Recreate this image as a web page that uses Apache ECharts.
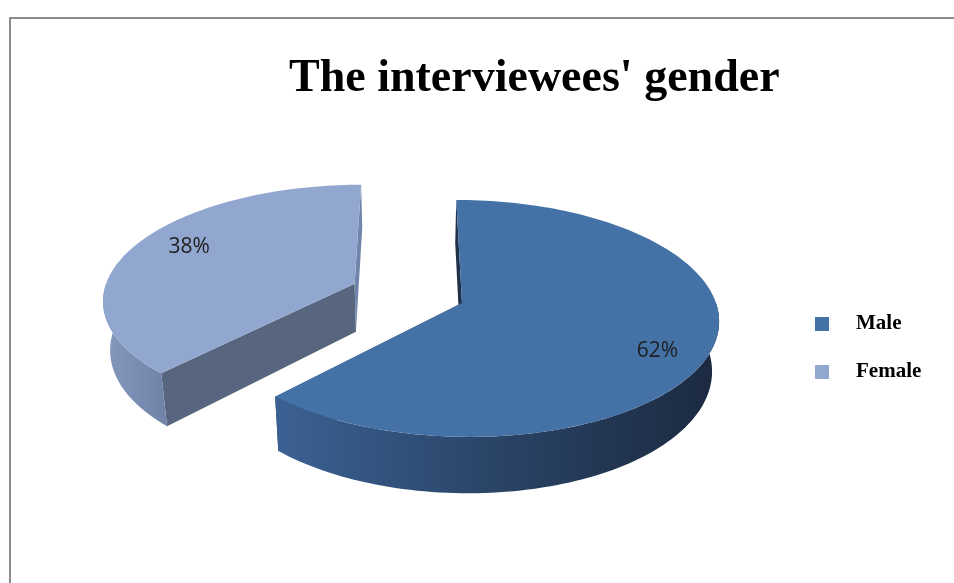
<!DOCTYPE html>
<html>
<head>
<meta charset="utf-8">
<script src="https://cdn.jsdelivr.net/npm/echarts@6/dist/echarts.min.js"></script>
<style>
  html, body { margin: 0; padding: 0; background: #fff; }
  #chart { width: 954px; height: 583px; }
</style>
</head>
<body>
<div id="chart"></div>
<script>
  // data
  const categories = ['Male', 'Female'];
  const shares = [62, 38];
  const shareLabels = ['62%', '38%'];

  // look
  const topColors = ['#4471A6', '#92A7CF'];
  const sideStops = [
    [[0, '#3B6193'], [0.5, '#2A4466'], [1, '#1B2940']],
    [[0, '#8599BF'], [1, '#6F82A8']]
  ];
  // [face on start edge, face on end edge]
  const cutColors = [['#1F3049', '#2B4466'], ['#57657F', '#7185AB']];
  const explode = [0, 0.46];

  // simple perspective view of the pie disc
  const view = { cx: 462, cy: 303, rx: 254, ry: 116.5, vx: 412, c: 0.13, q: 0.977, h: 49 };

  function project(X, Z, bottom) {
    const p = 1 / (1 - view.c * Z);
    const base = view.cx + view.rx * X;
    const k = bottom ? p * view.q : p;
    return [
      view.vx + (base - view.vx) * k,
      view.cy + view.ry * Z * p + (bottom ? view.h * p : 0)
    ];
  }

  function rim(ex, ez, a, bottom) {
    return project(ex + Math.sin(a), ez - Math.cos(a), bottom);
  }

  function arc(ex, ez, a0, a1, bottom) {
    const out = [];
    const steps = Math.max(2, Math.ceil(Math.abs(a1 - a0) / (Math.PI / 120)));
    for (let s = 0; s <= steps; s++) {
      out.push(rim(ex, ez, a0 + (a1 - a0) * s / steps, bottom));
    }
    return out;
  }

  function sliceRender(idx) {
    return function (params, api) {
      const total = shares.reduce(function (a, b) { return a + b; }, 0);
      let before = 0;
      for (let k = 0; k < idx; k++) before += shares[k];
      const a0 = before / total * Math.PI * 2;
      const a1 = (before + api.value(0)) / total * Math.PI * 2;
      const mid = (a0 + a1) / 2;

      const ex = explode[idx] * Math.sin(mid);
      const ez = -explode[idx] * Math.cos(mid);
      const apexTop = project(ex, ez, false);
      const apexBot = project(ex, ez, true);
      const children = [];

      // cut faces along both radius edges
      [a0, a1].forEach(function (a, j) {
        children.push({
          type: 'polygon',
          shape: { points: [apexTop, rim(ex, ez, a, false), rim(ex, ez, a, true), apexBot] },
          style: { fill: cutColors[idx][j] }
        });
      });

      // curved front wall (front half is PI/2 .. 3PI/2)
      const f0 = Math.max(a0, Math.PI / 2);
      const f1 = Math.min(a1, Math.PI * 1.5);
      if (f1 > f0) {
        const upper = arc(ex, ez, f0, f1, false);
        const lower = arc(ex, ez, f0, f1, true).reverse();
        children.push({
          type: 'polygon',
          shape: { points: upper.concat(lower) },
          style: {
            fill: {
              type: 'linear', x: 0, y: 0, x2: 1, y2: 0,
              colorStops: sideStops[idx].map(function (s) { return { offset: s[0], color: s[1] }; })
            }
          }
        });
      }

      // top face
      children.push({
        type: 'polygon',
        shape: { points: [apexTop].concat(arc(ex, ez, a0, a1, false)) },
        style: { fill: topColors[idx] }
      });

      // value label
      const lp = project(ex + 0.77 * Math.sin(mid), ez - Math.cos(mid), false);
      children.push({
        type: 'text',
        style: {
          text: shareLabels[idx],
          x: lp[0] + 2,
          y: lp[1] + 3,
          align: 'center',
          verticalAlign: 'middle',
          fill: '#1e1e1e',
          fontSize: 21,
          fontFamily: 'Open Sans, Liberation Sans, sans-serif'
        }
      });

      return { type: 'group', children: children };
    };
  }

  // draw back slice (Female) first, front slice (Male) over it
  const drawOrder = [1, 0];

  const chart = echarts.init(document.getElementById('chart'), null, { renderer: 'canvas' });
  chart.setOption({
    animation: false,
    backgroundColor: '#ffffff',
    graphic: [{
      type: 'rect',
      silent: true,
      shape: { x: 10, y: 18, width: 990, height: 640 },
      style: { fill: 'none', stroke: '#8c8c8c', lineWidth: 2 }
    }],
    title: {
      text: "The interviewees' gender",
      left: 284,
      top: 51,
      textStyle: {
        fontFamily: 'Liberation Serif, serif',
        fontWeight: 'bold',
        fontSize: 46,
        color: '#000'
      }
    },
    legend: {
      orient: 'vertical',
      left: 810,
      top: 308,
      icon: 'rect',
      itemWidth: 14,
      itemHeight: 14,
      itemGap: 26,
      data: categories,
      textStyle: {
        fontFamily: 'Liberation Serif, serif',
        fontWeight: 'bold',
        fontSize: 21,
        lineHeight: 22,
        color: '#000',
        padding: [0, 0, 0, 22]
      }
    },
    series: drawOrder.map(function (i) {
      return {
        type: 'custom',
        name: categories[i],
        coordinateSystem: 'none',
        itemStyle: { color: topColors[i] },
        renderItem: sliceRender(i),
        data: [[shares[i]]]
      };
    })
  });
</script>
</body>
</html>
